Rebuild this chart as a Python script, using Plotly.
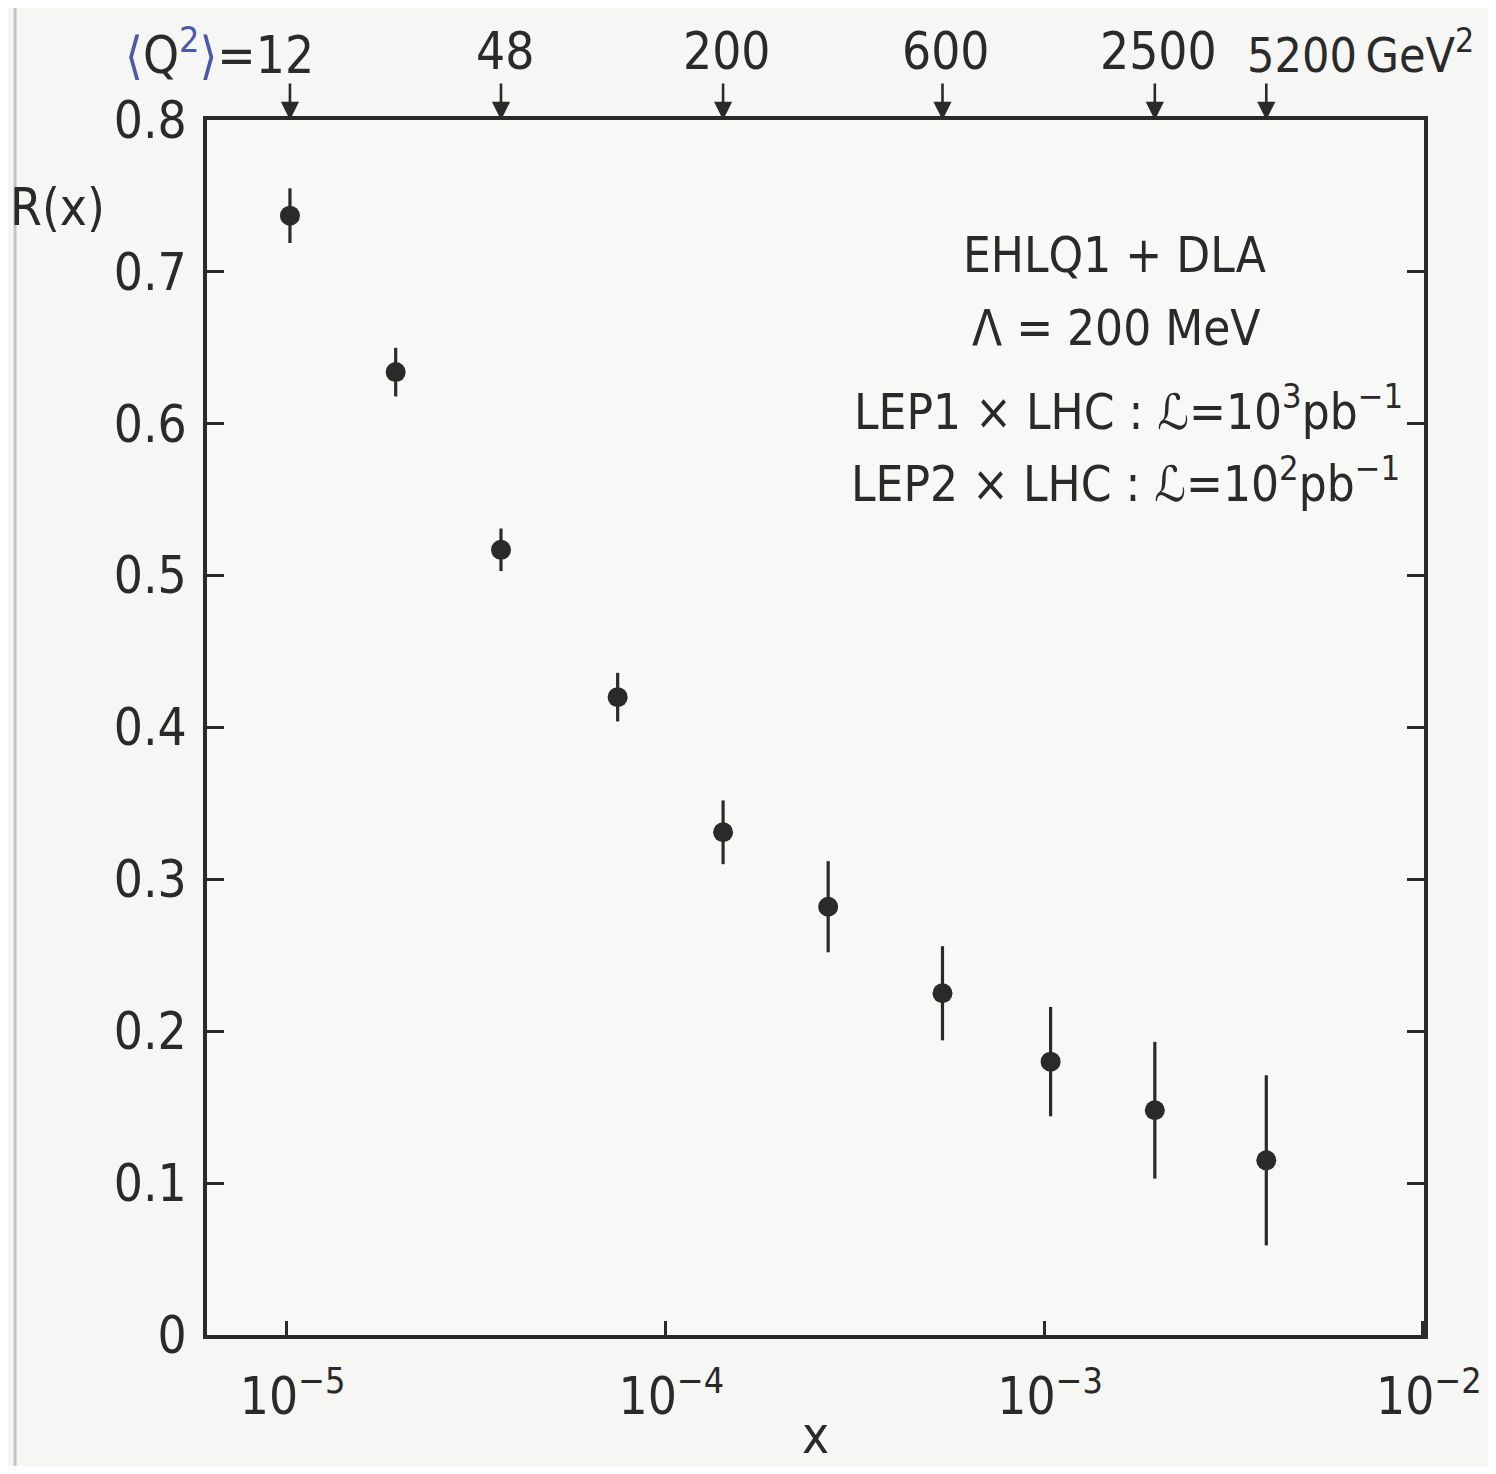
import numpy as np
import plotly.graph_objects as go

# ---- data ----
x_vals = [1.02e-5, 1.94e-5, 3.68e-5, 7.48e-5, 1.42e-4, 2.69e-4, 5.39e-4, 1.04e-3, 1.96e-3, 3.86e-3]
r_vals = [0.737, 0.634, 0.517, 0.420, 0.331, 0.282, 0.225, 0.180, 0.148, 0.115]
r_errs = [0.018, 0.016, 0.014, 0.016, 0.021, 0.030, 0.031, 0.036, 0.045, 0.056]

q2_index = [0, 2, 4, 6, 8, 9]
q2_labels = ["12", "48", "200", "600", "2500", "5200"]

x_tickvals = [1e-5, 1e-4, 1e-3, 1e-2]
x_ticktext = ["10<sup>−5</sup>", "10<sup>−4</sup>", "10<sup>−3</sup>", "10<sup>−2</sup>"]
y_tickvals = [0, 0.1, 0.2, 0.3, 0.4, 0.5, 0.6, 0.7, 0.8]
y_ticktext = ["0", "0.1", "0.2", "0.3", "0.4", "0.5", "0.6", "0.7", "0.8"]

info_lines = [
    "EHLQ1 + DLA",
    "Λ = 200 MeV",
    "LEP1 × LHC : ℒ=10<sup>3</sup>pb<sup>−1</sup>",
    "LEP2 × LHC : ℒ=10<sup>2</sup>pb<sup>−1</sup>",
]

# ---- style ----
FONT = "DejaVu Sans Condensed, DejaVu Sans, Roboto, sans-serif"
FS = 51
INK = "#2a2a2a"
BLUE = "#4a5aa8"
OFF = 8                      # page body margin
W, H = 1496 - 2 * OFF, 1474 - 2 * OFF
# plot area in reference pixels
X0, X1, Y0, Y1 = 207, 1424, 120, 1335
L, T = X0 - OFF, Y0 - OFF
R, B = W - (X1 - OFF), H - (Y1 - OFF)
PW, PH = X1 - X0, Y1 - Y0


def px(xp):
    return (xp - X0) / PW


def py(yp):
    return 1 - (yp - Y0) / PH


fig = go.Figure()
fig.add_trace(go.Scatter(
    x=x_vals, y=r_vals, mode="markers",
    marker=dict(size=20, color=INK, line=dict(width=0)),
    error_y=dict(type="data", array=r_errs, thickness=3.2, width=0, color=INK),
    showlegend=False, hoverinfo="x+y",
))

annotations = []
# top Q^2 arrows and labels
for k, (i, lab) in enumerate(zip(q2_index, q2_labels)):
    lx = np.log10(x_vals[i])
    annotations.append(dict(
        x=lx, y=1.0, xref="x", yref="paper", text="", showarrow=True,
        ax=0, ay=-38, arrowhead=2, arrowsize=1.4, arrowwidth=2.6,
        arrowcolor=INK, standoff=0,
    ))
    common = dict(x=lx, y=py(52), xref="x", yref="paper", showarrow=False,
                  yanchor="middle")
    if k == 0:
        txt = ('<span style="color:%s">⟨</span>Q<sup><span style="color:%s">2</span></sup>'
               '<span style="color:%s">⟩</span>=%s' % (BLUE, BLUE, BLUE, lab))
        annotations.append(dict(text=txt, xanchor="right", xshift=26,
                                font=dict(family=FONT, size=FS, color=INK), **common))
    elif k == len(q2_labels) - 1:
        annotations.append(dict(text=lab + "\u2009GeV<sup>2</sup>", xanchor="left",
                                xshift=-21, font=dict(family=FONT, size=48, color=INK),
                                **common))
    else:
        annotations.append(dict(text=lab, xanchor="center", xshift=4,
                                font=dict(family=FONT, size=FS, color=INK), **common))

# info text block
info_pos = [(1114, 255), (1116, 328), (1128, 408), (1125, 480)]
for line, (xp, yp) in zip(info_lines, info_pos):
    annotations.append(dict(
        x=px(xp), y=py(yp), xref="paper", yref="paper",
        text=line, showarrow=False, xanchor="center", yanchor="middle",
        font=dict(family=FONT, size=49, color=INK),
    ))

# axis labels
annotations.append(dict(
    x=px(57), y=py(207), xref="paper", yref="paper",
    text="R(x)", showarrow=False, xanchor="center", yanchor="middle",
    font=dict(family=FONT, size=FS, color=INK),
))
annotations.append(dict(
    x=px(815), y=py(1466), xref="paper", yref="paper",
    text="x", showarrow=False, xanchor="center", yanchor="bottom", borderpad=0,
    font=dict(family=FONT, size=FS, color=INK),
))

fig.update_layout(
    width=W, height=H,
    margin=dict(l=L, r=R, t=T, b=B, autoexpand=False),
    paper_bgcolor="#f6f6f4", plot_bgcolor="#f8f8f7",
    font=dict(family=FONT, size=FS, color=INK),
    annotations=annotations,
    shapes=[dict(type="line", xref="paper", yref="paper",
                 x0=px(15), x1=px(15), y0=py(1474), y1=py(0),
                 line=dict(color="#c4c4c4", width=3))],
    xaxis=dict(
        type="log", range=[np.log10(6.16e-6), -1.997],
        tickvals=x_tickvals, ticktext=x_ticktext,
        ticks="inside", ticklen=14, tickwidth=3, tickcolor=INK,
        showline=True, linewidth=4, linecolor=INK, mirror=True,
        showgrid=False, zeroline=False,
        ticklabelstandoff=14, ticklabelshift=6, ticklabeloverflow="allow",
        tickfont=dict(family=FONT, size=FS, color=INK),
    ),
    yaxis=dict(
        range=[0, 0.8], tickvals=y_tickvals, ticktext=y_ticktext,
        ticks="inside", ticklen=17, tickwidth=3, tickcolor=INK,
        showline=True, linewidth=4, linecolor=INK, mirror="ticks",
        showgrid=False, zeroline=False, ticklabelstandoff=6,
        tickfont=dict(family=FONT, size=FS, color=INK),
    ),
)

fig.write_html("out.html")
